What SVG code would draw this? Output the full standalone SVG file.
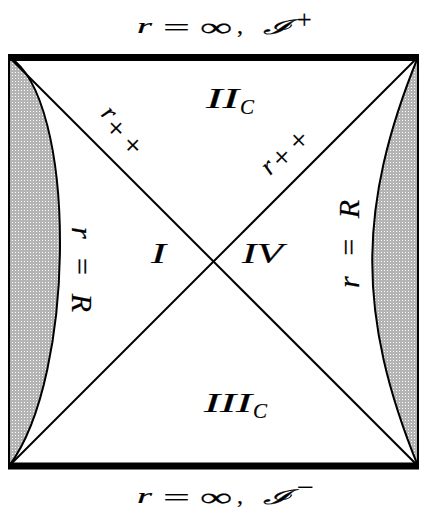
<svg xmlns="http://www.w3.org/2000/svg" width="423" height="516" viewBox="0 0 423 516">
<style>
.t{font-family:"Liberation Serif","DejaVu Serif",serif;font-style:italic;fill:#000;stroke:#000;stroke-width:0.2}
.s{font-family:"DejaVu Serif","Liberation Serif",serif;font-style:italic;fill:#000;stroke:#000;stroke-width:0.3}
.u{font-family:"Liberation Serif",serif;font-style:normal;fill:#000;stroke:#000;stroke-width:0.2}
.ln{stroke:#000;fill:none;stroke-width:2}
</style>
<defs>
<pattern id="dots" width="3" height="3" patternUnits="userSpaceOnUse">
<rect width="3" height="3" fill="#b4b4b4"/>
<rect x="0" y="0" width="1" height="1" fill="#fff"/>
</pattern>
</defs>
<rect width="423" height="516" fill="#fff"/>
<g id="shade-left">
<path d="M9,57 C77,97 77,376 9,466 Z" fill="url(#dots)"/>
</g>
<g id="shade-right">
<path d="M418,57 C357,207 357,316 418,466 Z" fill="url(#dots)"/>
</g>
<g id="connectors">
<line class="ln" x1="9" y1="57" x2="418" y2="466"/>
<line class="ln" x1="418" y1="57" x2="9" y2="466"/>
<path class="ln" stroke-width="2.5" d="M9,57 C77,97 77,376 9,466"/>
<path class="ln" stroke-width="2.5" d="M418,57 C357,207 357,316 418,466"/>
<line class="ln" x1="9" y1="57" x2="9" y2="466"/>
<line class="ln" x1="418" y1="57" x2="418" y2="466"/>
<line stroke="#000" stroke-width="7" x1="8" y1="57.5" x2="419" y2="57.5"/>
<line stroke="#000" stroke-width="7" x1="8" y1="466" x2="419" y2="466"/>
</g>
<g id="label-top">
<text class="t" font-size="20" x="137" y="33" textLength="15" lengthAdjust="spacingAndGlyphs">r</text>
<text class="u" font-size="24" x="163" y="35" textLength="27" lengthAdjust="spacingAndGlyphs">=</text>
<text class="u" font-size="26" x="200" y="36" textLength="32" lengthAdjust="spacingAndGlyphs">∞</text>
<text class="u" font-size="24" x="237" y="33">,</text>
<text class="s" font-size="20" x="263" y="34" textLength="28" lengthAdjust="spacingAndGlyphs">ℐ</text>
<text class="u" font-size="26" x="297" y="28">+</text>
</g>
<g id="label-bottom">
<text class="t" font-size="20" x="137" y="503" textLength="15" lengthAdjust="spacingAndGlyphs">r</text>
<text class="u" font-size="24" x="163" y="505" textLength="27" lengthAdjust="spacingAndGlyphs">=</text>
<text class="u" font-size="26" x="200" y="506" textLength="32" lengthAdjust="spacingAndGlyphs">∞</text>
<text class="u" font-size="24" x="237" y="503">,</text>
<text class="s" font-size="20" x="263" y="504" textLength="28" lengthAdjust="spacingAndGlyphs">ℐ</text>
<text class="u" font-size="26" x="297" y="496" textLength="17" lengthAdjust="spacingAndGlyphs">−</text>
</g>
<g id="region-IIC">
<text class="t" font-size="29" x="206" y="108" textLength="33" lengthAdjust="spacingAndGlyphs">II</text>
<text class="t" font-size="21" x="240" y="114">C</text>
</g>
<g id="region-IIIC">
<text class="t" font-size="27" x="204" y="412" textLength="48" lengthAdjust="spacingAndGlyphs">III</text>
<text class="t" font-size="21" x="253" y="418">C</text>
</g>
<g id="region-I">
<text class="t" font-size="30" x="151" y="263" textLength="15" lengthAdjust="spacingAndGlyphs">I</text>
</g>
<g id="region-IV">
<text class="t" font-size="30" x="242" y="263" textLength="41" lengthAdjust="spacingAndGlyphs">IV</text>
</g>
<g id="label-rpp-left">
<text class="t" font-size="26" transform="translate(100,115) rotate(45)">r<tspan class="u" font-size="30" dy="8" letter-spacing="7" dx="2">++</tspan></text>
</g>
<g id="label-rpp-right">
<text class="t" font-size="26" transform="translate(270,176) rotate(-45)">r<tspan class="u" font-size="30" dy="5" letter-spacing="7" dx="3">++</tspan></text>
</g>
<g id="label-rR-left">
<text class="t" font-size="30" transform="translate(72,227) rotate(90)" textLength="85" lengthAdjust="spacing">r = R</text>
</g>
<g id="label-rR-right">
<text class="t" font-size="30" transform="translate(359,288) rotate(-90)" textLength="88" lengthAdjust="spacing">r = R</text>
</g>
</svg>
